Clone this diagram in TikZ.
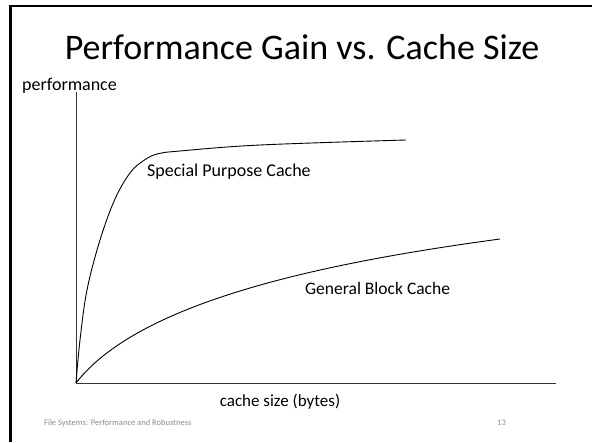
\documentclass[tikz,border=0pt]{standalone}
\usepackage{fontspec}
\setmainfont{Carlito}
\begin{document}
\begin{tikzpicture}[x=1pt,y=-1pt,
  frame/.style={line width=2.6pt,black},
  axis/.style={line width=1pt,black!80},
  curve/.style={line width=0.9pt,black},
  label/.style={font=\fontsize{17.5}{21}\selectfont,anchor=base west,inner sep=0pt},
  footer/.style={font=\fontsize{8.5}{10}\selectfont,text=black!45,anchor=base west,inner sep=0pt}]
\useasboundingbox (0,0) rectangle (592,442);
\fill[white] (0,0) rectangle (592,442);

% slide frame (top and left edges)
\draw[frame] (592,6) -- (10.3,6) -- (10.3,442);

% title
\node[font=\fontsize{36}{40}\selectfont,anchor=base,inner sep=0pt] (title) at (302,59) {Performance Gain vs. Cache Size};

% axes
\coordinate (origin) at (76,383);
\coordinate (ytop) at (76,92);
\coordinate (xend) at (556,383);
\draw[axis] (ytop) -- (origin) -- (xend);
\node[label,font=\fontsize{18}{21}\selectfont] (ylabel) at (22,90) {performance};
\node[label,font=\fontsize{17}{20}\selectfont,anchor=base] (xlabel) at (280,406) {cache size (bytes)};

% special purpose cache curve
\coordinate (spEnd) at (406,140);
\draw[curve] plot[smooth,tension=0.6] coordinates {
  (76,383) (80,340) (87,290) (100,240) (115,199) (130,173) (143,161)
  (157,154) (180,151) (260,145) (406,140)};
\node[label,font=\fontsize{18}{21}\selectfont] (special) at (147,176) {Special Purpose Cache};

% general block cache curve
\coordinate (gbEnd) at (500,239);
\draw[curve] (origin) .. controls (140,300) and (330,262) .. (gbEnd);
\node[label] (general) at (305,294) {General Block Cache};

% footer
\node[footer] (foot) at (44,425) {File Systems: Performance and Robustness};
\node[footer] (page) at (497,425) {13};
\end{tikzpicture}
\end{document}
